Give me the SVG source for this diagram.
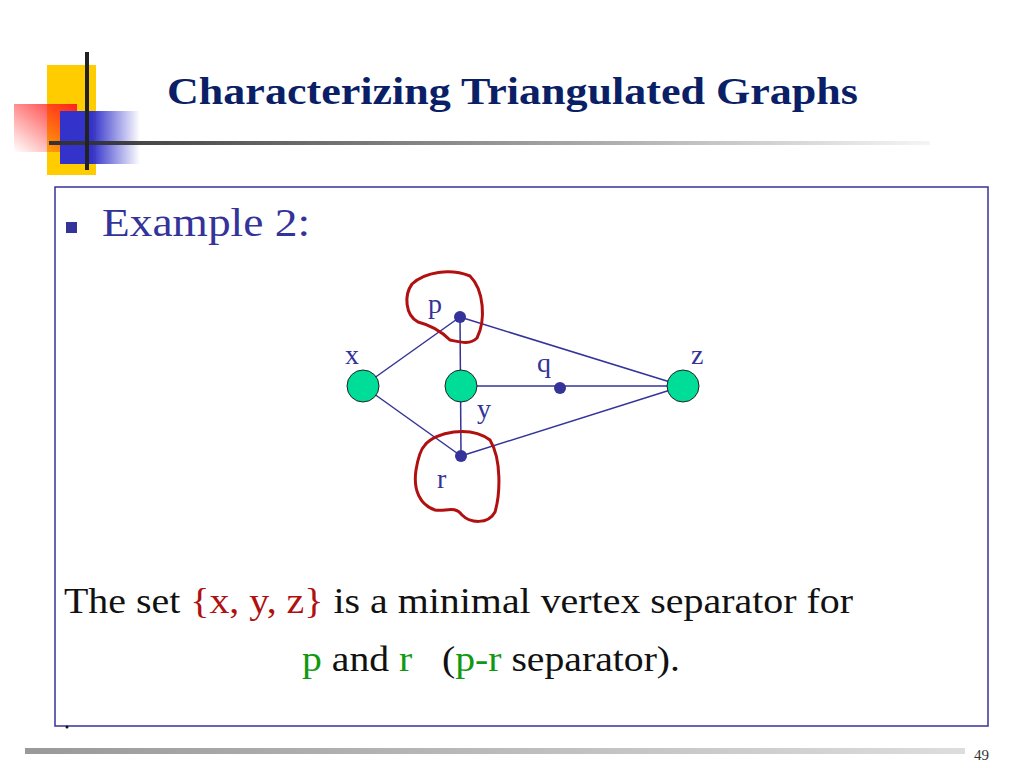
<svg xmlns="http://www.w3.org/2000/svg" width="1024" height="768" viewBox="0 0 1024 768">
<style>
.t{font-family:"Liberation Serif",serif;fill:#333399}
.e{stroke:#333399;stroke-width:1.5}
.big{fill:#00DD99;stroke:#222;stroke-width:1}
.sm{fill:#333399}
.red{fill:none;stroke:#B01010;stroke-width:3;stroke-linejoin:round}
</style>
<defs>
<linearGradient id="rg" x1="1" y1="0" x2="0" y2="1"><stop offset="0" stop-color="#ff2020"/><stop offset="1" stop-color="#ff2020" stop-opacity="0"/></linearGradient>
<linearGradient id="bg" x1="0" y1="0" x2="1" y2="0"><stop offset="0.4" stop-color="#3333cc"/><stop offset="1" stop-color="#3333cc" stop-opacity="0"/></linearGradient>
<linearGradient id="lg" x1="0" y1="0" x2="1" y2="0"><stop offset="0" stop-color="#333"/><stop offset="1" stop-color="#333" stop-opacity="0.05"/></linearGradient>
<linearGradient id="fg" x1="0" y1="0" x2="1" y2="0"><stop offset="0" stop-color="#999"/><stop offset="1" stop-color="#ddd"/></linearGradient>
</defs>
<rect width="1024" height="768" fill="#fff"/>
<g id="logo">
<rect x="47" y="65" width="49" height="110" fill="#FFCC00"/>
<rect x="14" y="104" width="63" height="48" fill="url(#rg)"/>
<rect x="60" y="111" width="80" height="53" fill="url(#bg)"/>
<rect x="49" y="141" width="881" height="4" fill="url(#lg)"/>
<line x1="87" y1="52" x2="87" y2="170" stroke="#222" stroke-width="4"/>
</g>
<text x="167" y="104" font-family="Liberation Serif,serif" font-weight="bold" font-size="37" fill="#0B1F66" textLength="691" lengthAdjust="spacingAndGlyphs">Characterizing Triangulated Graphs</text>
<rect x="55" y="187" width="933" height="539" fill="none" stroke="#333399" stroke-width="1.5"/>
<rect x="66" y="222" width="11" height="11" fill="#333399"/>
<text class="t" x="102" y="236" font-size="40" textLength="208" lengthAdjust="spacingAndGlyphs">Example 2:</text>
<g id="connectors">
<line class="e" x1="363" y1="386" x2="460" y2="317"/>
<line class="e" x1="363" y1="386" x2="461" y2="456"/>
<line class="e" x1="460" y1="317" x2="461" y2="456"/>
<line class="e" x1="460" y1="317" x2="683" y2="386"/>
<line class="e" x1="461" y1="386" x2="683" y2="386"/>
<line class="e" x1="461" y1="456" x2="683" y2="386"/>
</g>
<g id="node-x"><circle class="big" cx="363" cy="386" r="16"/><text class="t" x="345" y="364" font-size="28">x</text></g>
<g id="node-y"><circle class="big" cx="461" cy="386" r="16"/><text class="t" x="477" y="418" font-size="28">y</text></g>
<g id="node-z"><circle class="big" cx="683" cy="386" r="16"/><text class="t" x="691" y="364" font-size="28">z</text></g>
<g id="node-p"><circle class="sm" cx="460" cy="317" r="6"/><text class="t" x="428" y="313" font-size="28">p</text></g>
<g id="node-q"><circle class="sm" cx="560" cy="388" r="6"/><text class="t" x="537" y="372" font-size="28">q</text></g>
<g id="node-r"><circle class="sm" cx="461" cy="456" r="6"/><text class="t" x="437" y="488" font-size="28">r</text></g>
<path class="red" d="M412,284 C425,272 450,268 470,276 C484,290 486,320 477,338 C470,345 460,342 450,340 C440,330 430,325 418,322 C405,315 404,295 412,284 Z"/>
<path class="red" d="M425,445 C435,432 470,425 490,440 C502,460 500,495 495,512 C488,525 470,523 462,515 C455,505 445,512 435,510 C420,505 413,490 416,470 C418,458 420,450 425,445 Z"/>
<text x="64" y="613" font-family="Liberation Serif,serif" font-size="35" fill="#111" textLength="789" lengthAdjust="spacingAndGlyphs">The set <tspan fill="#B01010">{x, y, z}</tspan> is a minimal vertex separator for</text>
<text x="302" y="671" font-family="Liberation Serif,serif" font-size="35" fill="#111" xml:space="preserve" textLength="378" lengthAdjust="spacingAndGlyphs"><tspan fill="#119911">p</tspan> and <tspan fill="#119911">r</tspan>   (<tspan fill="#119911">p-r</tspan> separator).</text>
<circle cx="67" cy="727" r="1.5" fill="#111"/>
<rect x="25" y="748" width="940" height="6" fill="url(#fg)"/>
<text x="974" y="760" font-family="Liberation Serif,serif" font-size="15" fill="#333">49</text>
</svg>
